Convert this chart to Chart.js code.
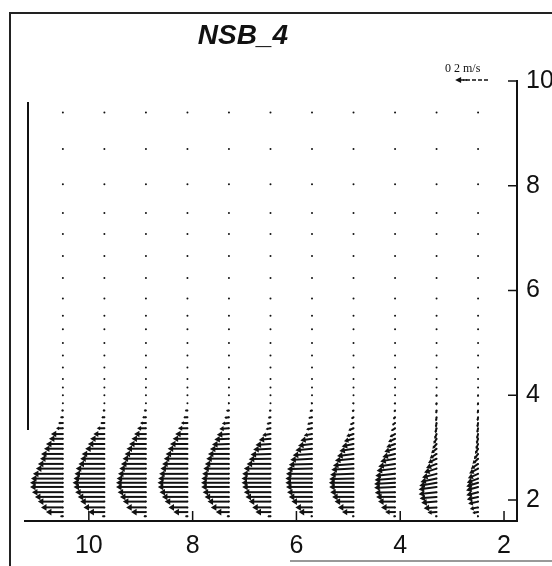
<!DOCTYPE html>
<html>
<head>
<meta charset="utf-8">
<script src="https://cdn.jsdelivr.net/npm/chart.js@4.4.1/dist/chart.umd.min.js"></script>
<style>
  html, body { margin: 0; padding: 0; background: #fff; }
  #wrap { width: 552px; height: 566px; }
</style>
</head>
<body>
<div id="wrap"><canvas id="chart" width="552" height="566"></canvas></div>
<script>
// stations (x of each profile) and sigma-ish levels (y), bottom up
const stations = [10.5, 9.7, 8.9, 8.1, 7.3, 6.5, 5.7, 4.9, 4.1, 3.3, 2.5];
const levels = [1.69, 1.77, 1.86, 1.97, 2.06, 2.15, 2.25, 2.33, 2.41, 2.50,
  2.60, 2.69, 2.79, 2.88, 2.98, 3.07, 3.17, 3.26, 3.37, 3.47,
  3.58, 3.71, 3.85, 4.00, 4.15, 4.31, 4.53, 4.76, 5.00, 5.26,
  5.52, 5.85, 6.24, 6.66, 7.08, 7.48, 8.03, 8.70, 9.40];
const xTicks = [2, 4, 6, 8, 10];
const yTicks = [2, 4, 6, 8, 10];

// horizontal velocity (cm/s, towards the left) per level
const uP1 = [1.8, 10.3, 13.3, 15.2, 17.0, 18.8, 20.0, 20.0, 19.4, 18.2, 16.4, 15.2, 13.9, 13.3, 11.5, 10.3, 8.5, 7.3, 4.2, 3.0, 1.8, 1.0, 0.3, 0.2, 0.1, 0, 0, 0, 0, 0, 0, 0, 0, 0, 0, 0, 0, 0, 0];
const uP2 = [1.6, 9.7, 12.7, 14.7, 16.2, 17.8, 18.8, 19.4, 18.8, 18.2, 17.4, 15.8, 14.7, 13.8, 11.7, 10.1, 8.7, 6.7, 4.7, 2.6, 2.0, 1.2, 0.3, 0.2, 0.1, 0, 0, 0, 0, 0, 0, 0, 0, 0, 0, 0, 0, 0, 0];
const uP3 = [1.6, 9.0, 12.0, 14.0, 15.8, 17.2, 18.2, 18.2, 17.8, 17.0, 16.2, 15.2, 14.2, 13.0, 11.8, 10.3, 8.8, 7.2, 5.4, 3.6, 2.4, 1.4, 0.5, 0.3, 0.2, 0.1, 0, 0, 0, 0, 0, 0, 0, 0, 0, 0, 0, 0, 0];
const uP4 = [1.5, 8.5, 11.5, 13.8, 15.5, 17.0, 18.0, 18.2, 17.8, 17.2, 16.4, 15.4, 14.4, 13.3, 12.0, 10.6, 9.0, 7.5, 5.8, 4.0, 2.6, 1.6, 0.6, 0.3, 0.2, 0.1, 0, 0, 0, 0, 0, 0, 0, 0, 0, 0, 0, 0, 0];
const uP5 = [1.5, 8.0, 11.0, 13.0, 14.8, 16.0, 16.9, 17.0, 16.8, 16.3, 15.6, 14.7, 13.8, 12.8, 11.6, 10.3, 8.9, 7.4, 5.9, 4.3, 2.9, 1.8, 0.8, 0.4, 0.2, 0.1, 0, 0, 0, 0, 0, 0, 0, 0, 0, 0, 0, 0, 0];
const uP6 = [2.0, 9.1, 11.1, 13.2, 15.2, 16.2, 17.2, 17.6, 17.6, 17.2, 16.2, 14.5, 13.2, 12.1, 10.5, 9.1, 7.1, 5.0, 3.0, 2.4, 1.6, 1.0, 0.4, 0.3, 0.2, 0.1, 0, 0, 0, 0, 0, 0, 0, 0, 0, 0, 0, 0, 0];
const uP7 = [1.0, 8.1, 10.1, 12.5, 14.1, 15.2, 15.8, 16.2, 16.2, 15.8, 15.2, 14.1, 13.2, 11.7, 10.1, 8.5, 7.1, 5.0, 3.6, 3.0, 2.4, 1.6, 0.8, 0.4, 0.3, 0.2, 0.1, 0, 0, 0, 0, 0, 0, 0, 0, 0, 0, 0, 0];
const uP8 = [1.0, 7.0, 9.5, 11.5, 13.0, 14.2, 14.8, 15.0, 14.8, 14.2, 13.5, 12.5, 11.3, 10.0, 8.6, 7.2, 5.8, 4.4, 3.2, 2.2, 1.5, 1.0, 0.6, 0.4, 0.3, 0.2, 0.1, 0, 0, 0, 0, 0, 0, 0, 0, 0, 0, 0, 0];
const uP9 = [1.2, 6.0, 8.5, 10.3, 11.5, 12.3, 12.7, 12.7, 12.4, 12.0, 11.2, 10.2, 9.0, 7.7, 6.5, 5.3, 4.2, 3.3, 2.5, 1.8, 1.2, 0.7, 0.4, 0.3, 0.2, 0.1, 0, 0, 0, 0, 0, 0, 0, 0, 0, 0, 0, 0, 0];
const uP10 = [1.0, 5.5, 7.8, 9.3, 10.3, 10.9, 10.9, 10.5, 9.8, 8.8, 7.6, 6.4, 5.2, 4.2, 3.3, 2.5, 1.8, 1.2, 0.8, 0.5, 0.4, 0.3, 0.2, 0.1, 0.1, 0, 0, 0, 0, 0, 0, 0, 0, 0, 0, 0, 0, 0, 0];
const uP11 = [0.8, 3.5, 5.0, 6.0, 6.8, 7.2, 7.3, 7.2, 6.8, 6.2, 5.4, 4.4, 3.4, 2.5, 1.8, 1.3, 1.0, 0.8, 0.6, 0.5, 0.4, 0.3, 0.2, 0.1, 0.1, 0, 0, 0, 0, 0, 0, 0, 0, 0, 0, 0, 0, 0, 0];

// vertical velocity (cm/s, negative = down)
const wP1 = [0, 0, 0, 0, 0, 0, 0, 0, 0, 0, 0, 0, 0, 0, 0, 0, 0, 0, 0, 0, 0, 0, 0, 0, 0, 0, 0, 0, 0, 0, 0, 0, 0, 0, 0, 0, 0, 0, 0];
const wP2 = [0, 0, 0, 0, 0, 0, 0, 0, 0, 0, 0, 0, 0, 0, 0, 0, 0, 0, 0, 0, 0, 0, 0, 0, 0, 0, 0, 0, 0, 0, 0, 0, 0, 0, 0, 0, 0, 0, 0];
const wP3 = [0, 0, 0, 0, 0, 0, 0, 0, 0, 0, 0, 0, 0, 0, 0, 0, 0, 0, 0, 0, 0, 0, 0, 0, 0, 0, 0, 0, 0, 0, 0, 0, 0, 0, 0, 0, 0, 0, 0];
const wP4 = [0, 0, 0, 0, 0, 0, 0, 0, 0, 0, 0, 0, 0, 0, 0, 0, 0, 0, 0, 0, 0, 0, 0, 0, 0, 0, 0, 0, 0, 0, 0, 0, 0, 0, 0, 0, 0, 0, 0];
const wP5 = [0, 0, 0, 0, 0, 0, 0, 0, 0, 0, 0, 0, 0, 0, -0.2, -0.3, -0.4, -0.4, -0.4, -0.3, -0.3, -0.2, -0.1, 0, 0, 0, 0, 0, 0, 0, 0, 0, 0, 0, 0, 0, 0, 0, 0];
const wP6 = [0, 0, 0, 0, 0, 0, 0, 0, 0, 0, 0, 0, -0.3, -0.4, -0.5, -0.6, -0.7, -0.7, -0.6, -0.5, -0.4, -0.3, -0.2, 0, 0, 0, 0, 0, 0, 0, 0, 0, 0, 0, 0, 0, 0, 0, 0];
const wP7 = [0, 0, 0, 0, 0, 0, 0, 0, 0, 0, -0.3, -0.5, -0.7, -0.8, -0.9, -1.0, -1.0, -0.9, -0.8, -0.7, -0.5, -0.4, -0.3, -0.2, 0, 0, 0, 0, 0, 0, 0, 0, 0, 0, 0, 0, 0, 0, 0];
const wP8 = [0, 0, 0, 0, 0, 0, 0, 0, -0.3, -0.5, -0.7, -0.9, -1.1, -1.3, -1.4, -1.5, -1.5, -1.4, -1.3, -1.1, -0.9, -0.7, -0.5, -0.4, -0.3, -0.2, 0, 0, 0, 0, 0, 0, 0, 0, 0, 0, 0, 0, 0];
const wP9 = [0, 0, 0, 0, 0, -0.3, -0.5, -0.7, -0.9, -1.1, -1.3, -1.5, -1.7, -1.8, -1.9, -1.9, -1.9, -1.8, -1.6, -1.4, -1.2, -1.0, -0.8, -0.6, -0.4, -0.3, -0.2, 0, 0, 0, 0, 0, 0, 0, 0, 0, 0, 0, 0];
const wP10 = [0, -0.3, -0.5, -0.7, -0.9, -1.2, -1.5, -1.8, -2.0, -2.2, -2.4, -2.5, -2.6, -2.7, -2.8, -2.9, -3.0, -3.0, -3.0, -2.8, -2.5, -2.0, -1.5, -1.0, -0.7, -0.5, -0.4, -0.3, -0.2, -0.2, 0, 0, 0, 0, 0, 0, 0, 0, 0];
const wP11 = [0, -0.6, -1.0, -1.3, -1.6, -1.9, -2.1, -2.3, -2.5, -2.7, -2.9, -3.0, -3.1, -3.2, -3.2, -3.2, -3.1, -3.0, -2.9, -2.7, -2.4, -2.0, -1.5, -1.0, -0.6, -0.4, -0.3, -0.2, -0.2, -0.1, 0, 0, 0, 0, 0, 0, 0, 0, 0];

const uProfiles = [uP1, uP2, uP3, uP4, uP5, uP6, uP7, uP8, uP9, uP10, uP11];
const wProfiles = [wP1, wP2, wP3, wP4, wP5, wP6, wP7, wP8, wP9, wP10, wP11];

const refSpeed = 20;        // cm/s, the "0 2 m/s" key arrow
const unitsPerCms = 0.0317; // axis units per cm/s for drawing vectors

const ink = "#111";
const sans = "'Liberation Sans', Arial, sans-serif";

const datasets = stations.map((st, k) => ({
  label: "x=" + st,
  data: levels.map((lv, i) => ({ x: st, y: lv, u: uProfiles[k][i], w: wProfiles[k][i] })),
  pointRadius: 1,
  pointBackgroundColor: ink,
  pointBorderWidth: 0,
  showLine: false,
}));

function drawArrow(ctx, x0, y0, x1, y1) {
  const dx = x1 - x0, dy = y1 - y0;
  const len = Math.hypot(dx, dy);
  if (len < 1.2) return;
  const ux = dx / len, uy = dy / len;
  const hl = Math.min(5.5, len * 0.45);
  const hw = hl * 0.6;
  ctx.beginPath();
  ctx.moveTo(x0, y0);
  ctx.lineTo(x1 - ux * hl * 0.6, y1 - uy * hl * 0.6);
  ctx.stroke();
  ctx.beginPath();
  ctx.moveTo(x1, y1);
  ctx.lineTo(x1 - ux * hl - uy * hw, y1 - uy * hl + ux * hw);
  ctx.lineTo(x1 - ux * hl + uy * hw, y1 - uy * hl - ux * hw);
  ctx.closePath();
  ctx.fill();
}

// frame, title, left bar, velocity key
const decorPlugin = {
  id: "decor",
  beforeDraw(chart) {
    const ctx = chart.ctx;
    ctx.save();
    ctx.fillStyle = "#fff";
    ctx.fillRect(0, 0, chart.width, chart.height);
    ctx.strokeStyle = "#222";
    ctx.lineWidth = 2;
    ctx.beginPath();
    ctx.moveTo(9, 13); ctx.lineTo(552, 13);
    ctx.moveTo(10, 13); ctx.lineTo(10, 566);
    ctx.stroke();
    ctx.strokeStyle = "#777";
    ctx.lineWidth = 1.5;
    ctx.beginPath();
    ctx.moveTo(290, 561); ctx.lineTo(552, 561);
    ctx.stroke();
    ctx.strokeStyle = ink;
    ctx.lineWidth = 2;
    ctx.beginPath();
    ctx.moveTo(28, 102); ctx.lineTo(28, 430);
    ctx.stroke();
    ctx.fillStyle = ink;
    ctx.font = "italic bold 28px " + sans;
    ctx.textAlign = "center";
    ctx.textBaseline = "alphabetic";
    ctx.fillText("NSB_4", 243, 44);
    ctx.restore();
  },
  afterDraw(chart) {
    const { ctx, scales: { x, y }, chartArea } = chart;
    ctx.save();
    ctx.strokeStyle = ink;
    ctx.lineWidth = 1.5;
    ctx.beginPath();
    xTicks.forEach((v) => {
      const px = x.getPixelForValue(v);
      ctx.moveTo(px, chartArea.bottom); ctx.lineTo(px, chartArea.bottom - 10);
    });
    yTicks.forEach((v) => {
      const py = y.getPixelForValue(v);
      ctx.moveTo(chartArea.right, py); ctx.lineTo(chartArea.right - 9, py);
    });
    ctx.stroke();
    // velocity key
    ctx.fillStyle = ink;
    ctx.font = "12px 'Liberation Serif', serif";
    ctx.textAlign = "left";
    ctx.fillText("0 2 m/s", 445, 72);
    const kx1 = 488;
    const kx0 = kx1 - (x.getPixelForValue(2) - x.getPixelForValue(2 + refSpeed * unitsPerCms));
    ctx.lineWidth = 1.5;
    ctx.setLineDash([4, 2]);
    ctx.beginPath();
    ctx.moveTo(kx1, 80); ctx.lineTo(kx0 + 8, 80);
    ctx.stroke();
    ctx.setLineDash([]);
    ctx.beginPath();
    ctx.moveTo(kx0 + 12, 80); ctx.lineTo(kx0 + 4, 80);
    ctx.stroke();
    ctx.beginPath();
    ctx.moveTo(kx0, 80); ctx.lineTo(kx0 + 6, 77); ctx.lineTo(kx0 + 6, 83);
    ctx.closePath();
    ctx.fill();
    ctx.restore();
  },
};

const arrowPlugin = {
  id: "arrows",
  afterDatasetsDraw(chart) {
    const { ctx, scales: { x, y } } = chart;
    ctx.save();
    ctx.strokeStyle = ink;
    ctx.fillStyle = ink;
    ctx.lineWidth = 2;
    chart.data.datasets.forEach((ds) => {
      ds.data.forEach((p) => {
        const x0 = x.getPixelForValue(p.x);
        const y0 = y.getPixelForValue(p.y);
        const x1 = x.getPixelForValue(p.x + p.u * unitsPerCms);
        const y1 = y.getPixelForValue(p.y + p.w * unitsPerCms);
        drawArrow(ctx, x0, y0, x1, y1);
      });
    });
    ctx.restore();
  },
};

const tickFont = { family: sans, size: 25 };

new Chart(document.getElementById("chart"), {
  type: "scatter",
  data: { datasets },
  options: {
    responsive: false,
    animation: false,
    layout: { padding: { left: 25, top: 81, right: 0, bottom: 0 } },
    plugins: { legend: { display: false }, tooltip: { enabled: false } },
    scales: {
      x: {
        type: "linear",
        position: "bottom",
        reverse: true,
        min: 1.75,
        max: 11.23,
        grid: { display: false, drawTicks: false, tickLength: 0 },
        border: { display: true, color: ink, width: 2 },
        afterBuildTicks: (s) => { s.ticks = xTicks.map((v) => ({ value: v })); },
        afterFit: (s) => { s.height = 45; },
        ticks: { color: ink, font: tickFont, padding: 10, maxRotation: 0, autoSkip: false },
      },
      y: {
        type: "linear",
        position: "right",
        min: 1.6,
        max: 10,
        grid: { display: false, drawTicks: false, tickLength: 0 },
        border: { display: true, color: ink, width: 2 },
        afterBuildTicks: (s) => { s.ticks = yTicks.map((v) => ({ value: v })); },
        afterFit: (s) => { s.width = 35; },
        ticks: { color: ink, font: tickFont, padding: 9, autoSkip: false },
      },
    },
  },
  plugins: [decorPlugin, arrowPlugin],
});
</script>
</body>
</html>
